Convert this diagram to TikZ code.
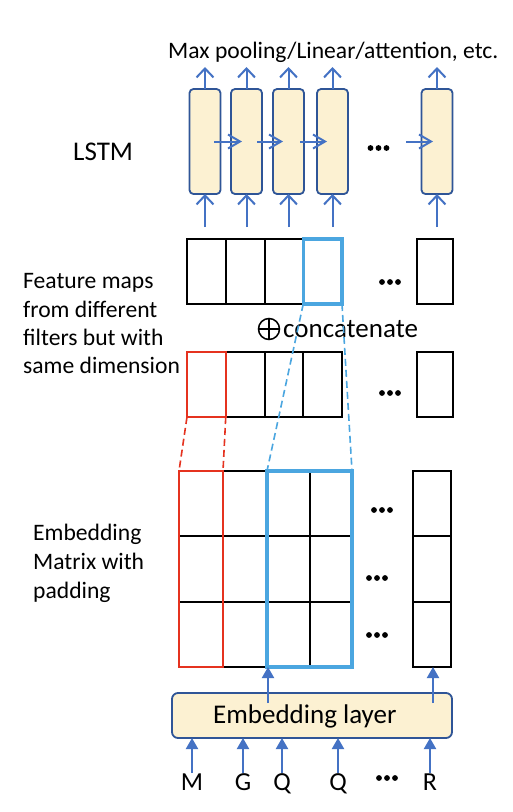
\documentclass[tikz,border=0pt]{standalone}
\usepackage{fontspec}
\setmainfont{Carlito}
\usetikzlibrary{arrows.meta,fit,calc}
\definecolor{cream}{HTML}{FCF1D2}
\definecolor{dkblue}{HTML}{2F5597}
\definecolor{arrblue}{HTML}{4472C4}
\definecolor{ltblue}{HTML}{4BA6E0}
\definecolor{myred}{HTML}{E5321F}
\begin{document}
\begin{tikzpicture}[x=1pt,y=-1pt,
  lstm/.style={draw=dkblue,fill=cream,line width=1.8pt,rounded corners=4pt,minimum width=31pt,minimum height=105pt,inner sep=0pt,outer sep=0pt},
  cell/.style={draw=black,line width=2pt,inner sep=0pt,outer sep=0pt},
  vbar/.style={draw=arrblue,line width=2pt,-{Straight Barb[length=9pt,width=17pt,line width=2pt]}},
  hbar/.style={draw=arrblue,line width=2pt,-{Straight Barb[length=12pt,width=14pt,line width=2pt]}},
  tri/.style={draw=arrblue,line width=2pt,-{Triangle[length=11pt,width=12pt]}},
  hl/.style={line width=3.4pt,inner sep=0pt,outer sep=0pt},
  redhl/.style={draw=myred,line width=2pt,inner sep=0pt,outer sep=0pt},
  dsh/.style={line width=1.6pt,dash pattern=on 7pt off 4pt},
  txt/.style={inner sep=0pt,font=\fontsize{23.6}{28}\selectfont},
  big/.style={inner sep=0pt,font=\fontsize{27}{32}\selectfont},
  threedots/.pic={\foreach \i in {-8,0,8} \fill (\i,0) circle (2.9pt);}
]
\useasboundingbox[fill=white] (0,0) rectangle (512,812);

% title
\node[txt,anchor=base west] (title) at (168,58) {Max pooling/Linear/attention, etc.};
\node[big,anchor=base west] (lstmlbl) at (73,160) {LSTM};

% LSTM cells
\foreach \i/\x in {1/205,2/246.5,3/288.5,4/332.5,5/437}{
  \node[lstm] (l\i) at (\x,141.5) {};
  \coordinate (t\i) at (\x,67);
  \coordinate (b\i) at (\x,227);
  \draw[vbar] (l\i.north) -- (t\i);
  \draw[vbar] (b\i) -- (l\i.south);
}
\draw[hbar] ($(l1.center)+(9,0)$) -- ($(l2.center)+(-4.5,0)$);
\draw[hbar] ($(l2.center)+(10.5,0)$) -- ($(l3.center)+(-5.5,0)$);
\draw[hbar] ($(l3.center)+(11.5,0)$) -- ($(l4.center)+(-5.5,0)$);
\coordinate (hs5) at (406,141.5);
\draw[hbar] (hs5) -- ($(l5.center)+(-4,0)$);
\pic at (378.5,148) {threedots};

% feature map rows
\foreach \i/\xa/\xb in {1/187/225.75,2/225.75/264.5,3/264.5/303.25,4/303.25/342,5/417/453}{
  \node[cell,fit={(\xa,239)(\xb,304)}] (f\i) {};
  \node[cell,fit={(\xa,352)(\xb,417)}] (g\i) {};
}
\node[hl,draw=ltblue,fit=(f4)] (fb) {};
\node[redhl,fit=(g1)] (gr) {};
\pic at (390,282) {threedots};
\pic at (390,393) {threedots};

% side labels
\node[txt,anchor=base west] (fm1) at (23,288) {Feature maps};
\node[txt,anchor=base west] (fm2) at (23,317) {from different};
\node[txt,anchor=base west] (fm3) at (23,345) {filters but with};
\node[txt,anchor=base west] (fm4) at (23,373) {same dimension};

% oplus symbol and concatenate
\draw[line width=1.5pt] (269,329) circle (10.5pt);
\draw[line width=1.5pt] (258.5,329) -- (279.5,329) (269,318.5) -- (269,339.5);
\node[big,anchor=base west] (concat) at (283,337) {concatenate};

% embedding matrix
\foreach \c/\xa/\xb in {1/179/223,2/223/267,3/267/309.5,4/309.5/352}{
  \foreach \r/\ya/\yb in {1/471/536.3,2/536.3/601.7,3/601.7/667}{
    \node[cell,fit={(\xa,\ya)(\xb,\yb)}] (m\r\c) {};
  }
}
\foreach \r/\ya/\yb in {1/471/536.3,2/536.3/601.7,3/601.7/667}{
  \node[cell,fit={(413,\ya)(451,\yb)}] (n\r) {};
}
\node[redhl,fit=(m11)(m31)] (mred) {};
\node[hl,draw=ltblue,fit=(m13)(m34)] (mblue) {};
\pic at (382,510) {threedots};
\pic at (377,578) {threedots};
\pic at (377,635) {threedots};

\node[txt,anchor=base west] (em1) at (33,540) {Embedding};
\node[txt,anchor=base west] (em2) at (33,569) {Matrix with};
\node[txt,anchor=base west] (em3) at (33,598) {padding};

% dashed links
\draw[dsh,myred] (gr.south west) -- (mred.north west);
\draw[dsh,myred] (gr.south east) -- (mred.north east);
\draw[dsh,ltblue] (fb.south west) -- (mblue.north west);
\draw[dsh,ltblue] (fb.south east) -- (mblue.north east);

% embedding layer
\node[draw=dkblue,fill=cream,line width=1.8pt,rounded corners=6pt,inner sep=0pt,outer sep=0pt,fit={(172,693)(452,738)}] (emb) {};
\node[big,anchor=base west] (embtxt) at (213,723) {Embedding layer};
\coordinate (e1) at (268,703);
\coordinate (e2) at (433,703);
\draw[tri] (e1) -- (e1 |- mblue.south);
\draw[tri] (e2) -- (e2 |- n3.south);

% input letters
\foreach \n/\x/\t in {L1/192/M,L2/243/G,L3/282/Q,L4/338/Q,L5/430/R}{
  \node[inner sep=0pt,font=\fontsize{26}{30}\selectfont,anchor=base] (\n) at (\x,790) {\t};
  \draw[tri] (\n.north) -- (\n.north |- emb.south);
}
\pic at (387,778) {threedots};
\end{tikzpicture}
\end{document}
